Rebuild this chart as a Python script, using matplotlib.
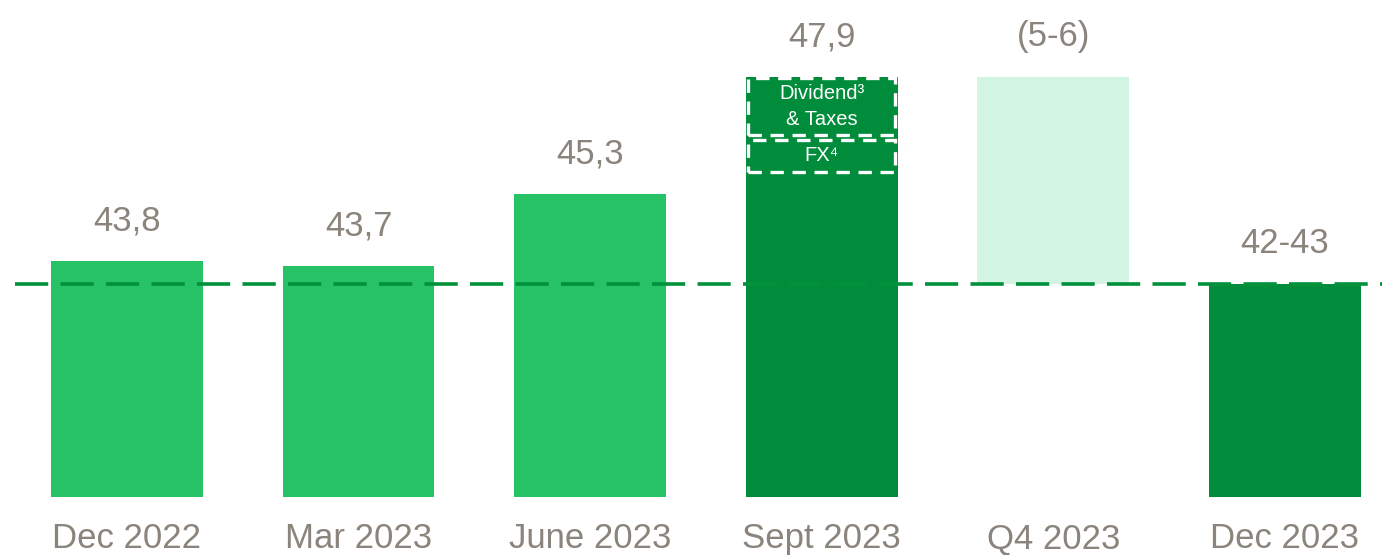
import matplotlib.pyplot as plt
from matplotlib.patches import Rectangle

# data
categories = ['Dec 2022', 'Mar 2023', 'June 2023', 'Sept 2023', 'Q4 2023', 'Dec 2023']
actuals = [43.8, 43.7, 45.3, 47.9]          # solid bars
value_labels = ['43,8', '43,7', '45,3', '47,9', '(5-6)', '42-43']
target_level = 43.3                         # dashed reference line / Dec 2023 top (estimated)
dividend_taxes = 1.3                        # size of "Dividend & Taxes" segment (estimated)
fx_impact = 0.72                            # size of "FX" segment (estimated)
y_base = 38.55

light_green = '#27C166'
dark_green = '#008C3A'
pale_green = '#D1F5E2'
grey = '#8A847C'
fonts = ['Liberation Sans', 'DejaVu Sans']

plt.rcParams['font.family'] = fonts

fig = plt.figure(figsize=(13.82, 5.55), dpi=100)
ax = fig.add_axes([0, 0.1045, 1, 0.8955])
ax.set_xlim(-0.548, 5.419)
ax.set_ylim(y_base, 49.61)
ax.axis('off')

w = 0.656
x = list(range(len(categories)))

bar_colors = [light_green, light_green, light_green, dark_green]
for i, v in enumerate(actuals):
    ax.bar(x[i], v - y_base, bottom=y_base, width=w, color=bar_colors[i], zorder=2)

# Q4 bridge bar (floating) and Dec 2023 outlook bar
sept = actuals[3]
ax.bar(x[4], sept - target_level, bottom=target_level, width=w, color=pale_green, zorder=2)
ax.bar(x[5], target_level - y_base, bottom=y_base, width=w, color=dark_green, zorder=2)

# dashed reference line
ax.axhline(target_level, xmin=15 / 1382, xmax=1, color='#00913A', lw=2.6,
           ls=(0, (9.2, 3.4)), zorder=3)

# value labels
tops = actuals + [sept, target_level]
for i, lab in enumerate(value_labels):
    ax.annotate(lab, (x[i], tops[i]), xytext=(0, 22), textcoords='offset points',
                ha='center', va='baseline', fontsize=25, color=grey)

# category labels
for i, c in enumerate(categories):
    ax.annotate(c, (x[i], y_base), xytext=(0, -37), textcoords='offset points',
                ha='center', va='baseline', fontsize=25, color=grey,
                annotation_clip=False)

# dashed boxes inside the Sept bar
bw = w * 0.965
y1 = sept - dividend_taxes
y2 = y1 - 0.1
y3 = y2 - fx_impact
for lo, hi in [(y1, sept - 0.03), (y3, y2)]:
    ax.add_patch(Rectangle((x[3] - bw / 2, lo), bw, hi - lo, fill=False,
                           edgecolor='white', lw=2.4, ls=(0, (4, 2.6)), zorder=4))
ax.text(x[3], (y1 + sept) / 2 + 0.27, 'Dividend\u00b3', ha='center', va='center',
        fontsize=14.5, color='white', zorder=5)
ax.text(x[3], (y1 + sept) / 2 - 0.3, '& Taxes', ha='center', va='center',
        fontsize=14.5, color='white', zorder=5)
ax.text(x[3], (y3 + y2) / 2, 'FX\u2074', ha='center', va='center',
        fontsize=14.5, color='white', zorder=5)

fig.savefig('out.png', dpi=100)
